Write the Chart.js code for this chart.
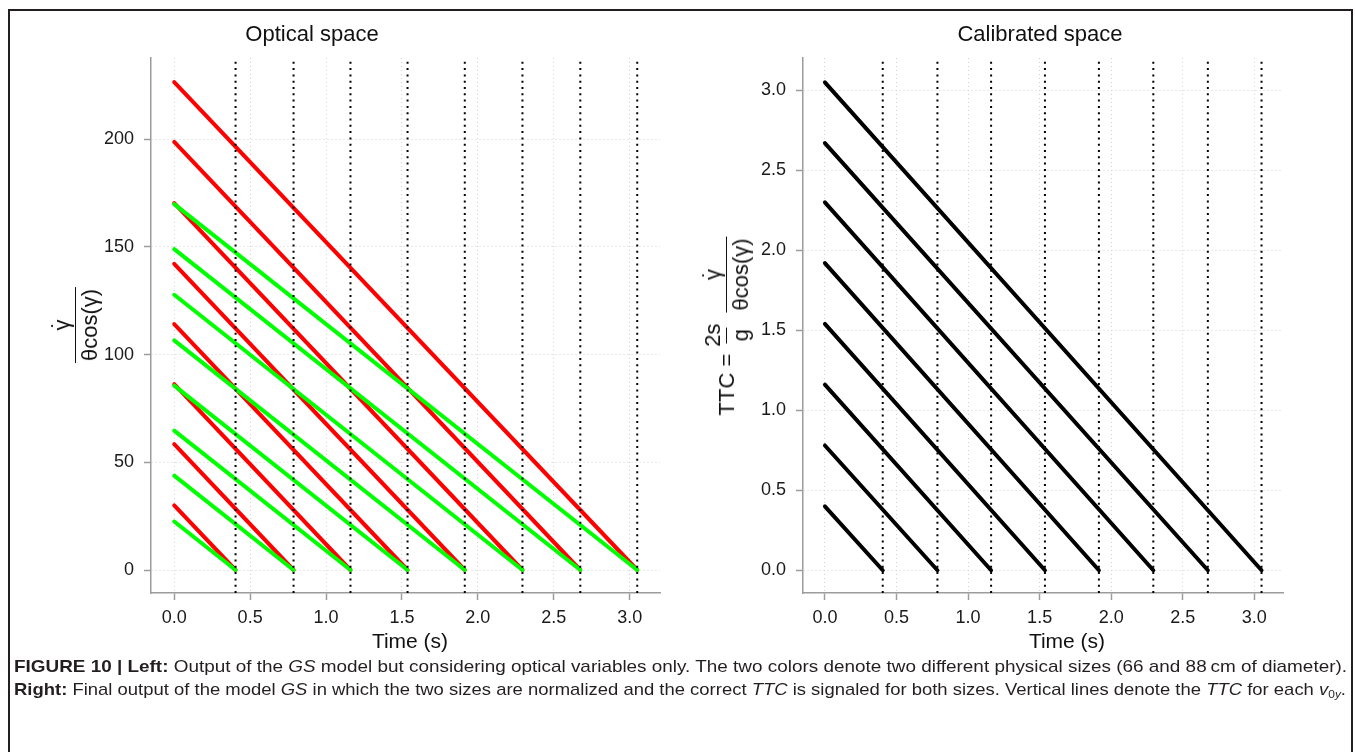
<!DOCTYPE html>
<html>
<head>
<meta charset="utf-8">
<script src="https://cdn.jsdelivr.net/npm/chart.js@4.4.1/dist/chart.umd.min.js"></script>
<style>
  html, body { margin: 0; padding: 0; background: #fff; }
  body { width: 1355px; height: 752px; position: relative; overflow: hidden;
         font-family: "Liberation Sans", Arial, Helvetica, sans-serif; color: #111; }
  canvas { position: absolute; top: 0; }
  #frame { position: absolute; left: 8px; top: 9px; width: 1341px; height: 800px;
           border: 2px solid #231f20; box-sizing: content-box; }
  .lbl { position: absolute; white-space: nowrap; line-height: 1; transform: translateX(-50%); }
  .ttl { font-size: 22px; }
  .xt { font-size: 21px; }
  .ytitle { position: absolute; white-space: nowrap; font-size: 22px; line-height: 1;
            display: flex; align-items: center; transform: translate(-50%, -50%) rotate(-90deg); }
  .frac { display: inline-flex; flex-direction: column; align-items: center; }
  .frac .num { padding: 0 2px 2px 2px; }
  .frac .den { padding: 3px 2px 0 2px; border-top: 1.5px solid #111; }
  .gd { position: relative; display: inline-block; }
  .gd .dt { position: absolute; left: 50%; top: -2px; transform: translateX(-50%); }
  .cap { position: absolute; left: 14px; white-space: nowrap; font-size: 17px; line-height: 1;
         font-family: "Liberation Sans Narrow", "Arial Narrow", "Liberation Sans", Arial, sans-serif;
         color: #231f20; transform-origin: 0 0; }
  .cap b { font-weight: bold; }
  .cap sub { font-size: 11px; vertical-align: -3px; }
</style>
</head>
<body>
<div id="frame"></div>
<canvas id="optical" width="690" height="752" style="left:0"></canvas>
<canvas id="calibrated" width="665" height="752" style="left:690px"></canvas>

<div class="lbl ttl" style="left:312px; top:23px;">Optical space</div>
<div class="lbl ttl" style="left:1040px; top:23px;">Calibrated space</div>
<div class="lbl xt" style="left:410px; top:630px;">Time (s)</div>
<div class="lbl xt" style="left:1067px; top:630px;">Time (s)</div>

<div class="ytitle" style="left:76px; top:325px;">
  <span class="frac"><span class="num"><span class="gd">γ<span class="dt">˙</span></span></span><span class="den">θcos(γ)</span></span>
</div>
<div class="ytitle" style="left:727px; top:326px;">
  <span style="margin-right:5px;">TTC =</span>
  <span class="frac" style="margin-right:9px;"><span class="num">2s</span><span class="den">g</span></span>
  <span class="frac"><span class="num"><span class="gd">γ<span class="dt">˙</span></span></span><span class="den">θcos(γ)</span></span>
</div>

<div class="cap" id="cap1" style="top:658px;"><b>FIGURE 10 | Left:</b> Output of the <i>GS</i> model but considering optical variables only. The two colors denote two different physical sizes (66 and 88&thinsp;cm of diameter).</div>
<div class="cap" id="cap2" style="top:681px;"><b>Right:</b> Final output of the model <i>GS</i> in which the two sizes are normalized and the correct <i>TTC</i> is signaled for both sizes. Vertical lines denote the <i>TTC</i> for each <i>v</i><sub>0<i>y</i></sub>.</div>

<script>
// Time-to-contact of each launch (s): where each line reaches zero
const ttc = [0.404, 0.786, 1.161, 1.537, 1.914, 2.294, 2.675, 3.05];
// Optical variable at t = 0 for the 88 cm ball (red) and the 66 cm ball (green)
const redStart   = [30.0, 58.4, 86.3, 114.2, 142.2, 170.4, 198.8, 226.6];
const greenStart = [22.5, 43.8, 64.7, 85.6, 106.6, 127.8, 149.0, 169.9];
// Calibrated TTC at t = 0 (s)
const calibratedStart = [0.40, 0.78, 1.16, 1.54, 1.92, 2.30, 2.67, 3.05];

// Tick labels
const timeTicks = [0.0, 0.5, 1.0, 1.5, 2.0, 2.5, 3.0];
const opticalTicks = [0, 50, 100, 150, 200];
const calibratedTicks = [0.0, 0.5, 1.0, 1.5, 2.0, 2.5, 3.0];

// Axis limits
const timeRange = [-0.153, 3.20];
const opticalRange = [-10.68, 237.75];
const calibratedRange = [-0.142, 3.202];

const AXIS_GREY = '#9c9c9c';
const GRID_GREY = '#d2d2d2';
const TICK_FONT = { family: '"Liberation Sans", Arial, sans-serif', size: 18 };

function segment(x0, y0, x1, y1) { return [{ x: x0, y: y0 }, { x: x1, y: y1 }]; }

function fallLine(start, end, color, width, order) {
  return {
    data: segment(0, start, end, 0),
    borderColor: color, borderWidth: width, borderCapStyle: 'round',
    pointRadius: 0, fill: false, order: order
  };
}

function ttcMarkers(range) {
  return ttc.map(t => ({
    data: segment(t, range[0], t, range[1]),
    borderColor: '#000', borderWidth: 2, borderDash: [2, 4.3], borderCapStyle: 'butt',
    pointRadius: 0, fill: false, order: 0
  }));
}

function axisCommon(values, fmt) {
  return {
    type: 'linear',
    afterBuildTicks: s => { s.ticks = values.map(v => ({ value: v })); },
    ticks: { autoSkip: false, maxRotation: 0, color: '#1a1a1a', font: TICK_FONT,
             padding: 7, callback: fmt },
    grid: { color: GRID_GREY, lineWidth: 1, drawTicks: true, tickLength: 7,
            tickColor: AXIS_GREY, tickWidth: 1.5 },
    border: { display: true, color: AXIS_GREY, width: 1.5, dash: [1, 3] }
  };
}

function buildChart(id, datasets, yRange, yTicks, yFmt, padL, padR) {
  const x = axisCommon(timeTicks, v => v.toFixed(1));
  x.min = timeRange[0]; x.max = timeRange[1];
  x.afterFit = s => { s.height = 40; };
  const y = axisCommon(yTicks, yFmt);
  y.min = yRange[0]; y.max = yRange[1];
  y.ticks.padding = 10;
  y.afterFit = s => { s.width = 50; };
  return new Chart(document.getElementById(id), {
    type: 'line',
    data: { datasets: datasets },
    options: {
      responsive: false, animation: false, events: [],
      devicePixelRatio: 1,
      layout: { padding: { left: padL, right: padR, top: 58, bottom: 119 } },
      plugins: { legend: { display: false }, tooltip: { enabled: false }, title: { display: false } },
      scales: { x: x, y: y }
    }
  });
}

// Optical space: red drawn first, green on top, dotted TTC markers above both
const opticalSets = [];
redStart.forEach((s, i) => opticalSets.push(fallLine(s, ttc[i], '#ff0000', 4, 2)));
greenStart.forEach((s, i) => opticalSets.push(fallLine(s, ttc[i], '#00ff00', 4, 1)));
ttcMarkers(opticalRange).forEach(d => opticalSets.push(d));
buildChart('optical', opticalSets, opticalRange, opticalTicks, v => String(v), 101, 30);

// Calibrated space
const calibratedSets = [];
calibratedStart.forEach((s, i) => calibratedSets.push(fallLine(s, ttc[i], '#000000', 4, 1)));
ttcMarkers(calibratedRange).forEach(d => calibratedSets.push(d));
buildChart('calibrated', calibratedSets, calibratedRange, calibratedTicks, v => v.toFixed(1), 63, 72);

// Stretch caption lines to the text block width
function fitLine(id, width) {
  const el = document.getElementById(id);
  el.style.transform = 'none';
  const w = el.getBoundingClientRect().width;
  el.style.transform = 'scaleX(' + (width / w) + ')';
}
fitLine('cap1', 1333);
fitLine('cap2', 1332);
</script>
</body>
</html>
